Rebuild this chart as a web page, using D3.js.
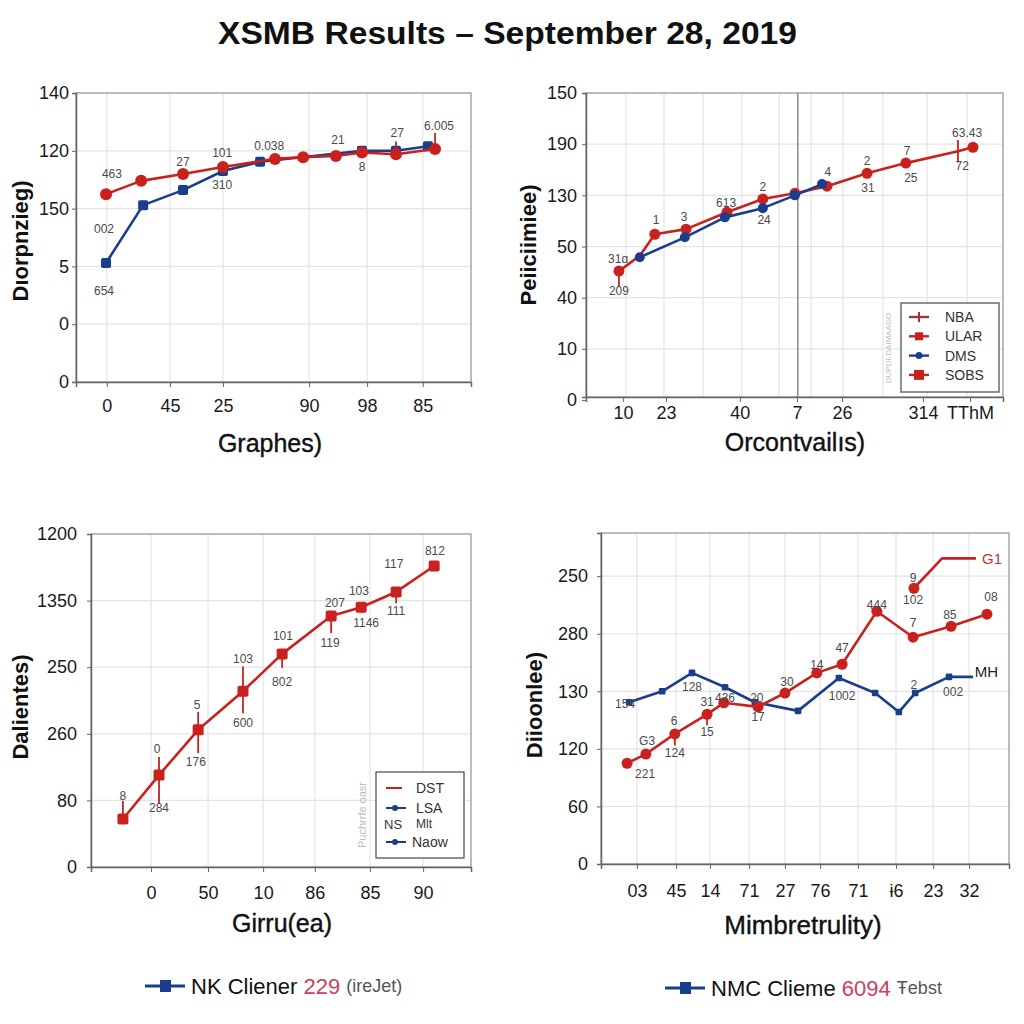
<!DOCTYPE html>
<html><head><meta charset="utf-8">
<script src="https://cdn.jsdelivr.net/npm/d3@7"></script>
<style>
html,body{margin:0;padding:0;background:#fff;}
svg{display:block;font-family:"Liberation Sans",Arial,sans-serif;}
</style></head><body>
<svg id="chart" width="1024" height="1024"></svg>
<script>
// ---------- DATA ----------
const chartTitle = "XSMB Results \u2013 September 28, 2019";

// Panel 1 (top-left)
const p1XTickPos = [7.8, 23.8, 37.2, 59.0, 73.7, 87.8];
const p1XTickLabels = ["0", "45", "25", "90", "98", "85"];
const p1YTickLabels = ["0", "0", "5", "150", "120", "140"];
const p1RedX = [7.6, 16.5, 27.1, 37.2, 50.4, 57.5, 65.8, 72.4, 81.0, 90.9];
const p1RedY = [3.25, 3.48, 3.60, 3.72, 3.86, 3.89, 3.91, 3.97, 3.94, 4.03];
const p1RedErrUp = [0, 0, 0, 0, 0, 0, 0, 0, 0.22, 0.28];
const p1BlueX = [7.6, 17.0, 27.1, 37.2, 46.6, 72.4, 81.0, 89.1];
const p1BlueY = [2.06, 3.06, 3.32, 3.65, 3.81, 4.00, 4.00, 4.08];
const p1NoteText = ["463", "27", "101", "0.038", "21", "27", "6.005", "002", "654", "310", "8"];
const p1NoteX = [9.1, 27.1, 37.0, 48.9, 66.3, 81.3, 91.9, 7.1, 7.1, 37.0, 72.4];
const p1NoteY = [3.60, 3.81, 3.96, 4.08, 4.19, 4.31, 4.43, 2.65, 1.57, 3.41, 3.72];
const p1YTitle = "D\u0131orpnzieg)";
const p1XTitle = "Graphes)";

// Panel 2 (top-right)
const p2XTickPos = [8.9, 19.2, 36.9, 50.6, 61.4, 80.8, 92.1];
const p2XTickLabels = ["10", "23", "40", "7", "26", "314", "TThM"];
const p2XGrid = [9.6, 18.7, 28.1, 37.4, 46.3, 54.0, 61.6, 71.2, 81.8, 91.4];
const p2YTickLabels = ["0", "10", "40", "50", "130", "190", "150"];
const p2RedX = [7.9, 12.9, 16.5, 24.0, 33.8, 42.4, 50.1, 57.8, 67.4, 76.7, 89.2, 92.8];
const p2RedY = [2.52, 2.82, 3.24, 3.34, 3.67, 3.93, 4.04, 4.18, 4.43, 4.63, 4.86, 4.94];
const p2RedErrUp = [0, 0, 0, 0, 0, 0, 0, 0, 0, 0, 0.22, 0];
const p2RedErrDown = [0.3, 0, 0, 0, 0, 0, 0, 0, 0, 0, 0.22, 0];
const p2BlueX = [12.9, 23.7, 33.3, 42.4, 50.1, 56.6];
const p2BlueY = [2.79, 3.18, 3.57, 3.75, 4.00, 4.22];
const p2NoteText = ["31\u0251", "209", "1", "3", "613", "2", "24", "4", "2", "31", "7", "25", "63.43", "72"];
const p2NoteX = [7.7, 7.9, 16.8, 23.5, 33.6, 42.4, 42.7, 58.0, 67.4, 67.6, 77.0, 77.9, 91.4, 90.2];
const p2NoteY = [2.75, 2.13, 3.52, 3.57, 3.85, 4.16, 3.52, 4.45, 4.67, 4.14, 4.86, 4.34, 5.21, 4.57];
const p2LegendLabels = ["NBA", "ULAR", "DMS", "SOBS"];
const p2YTitle = "Peiiciimiee)";
const p2XTitle = "Orcontvail\u0131s)";

// Panel 3 (bottom-left)
const p3XTickPos = [15.8, 30.8, 45.3, 58.9, 73.4, 87.4];
const p3XTickLabels = ["0", "50", "10", "86", "85", "90"];
const p3YTickLabels = ["0", "80", "260", "250", "1350", "1200"];
const p3RedX = [8.4, 17.9, 28.2, 40.0, 50.3, 63.2, 71.1, 80.3, 90.3];
const p3RedY = [0.72, 1.38, 2.06, 2.64, 3.20, 3.77, 3.90, 4.13, 4.52];
const p3RedErrUp = [0.27, 0.27, 0.27, 0.37, 0, 0, 0, 0, 0];
const p3RedErrDown = [0, 0.43, 0.35, 0.33, 0.21, 0.26, 0.08, 0.17, 0];
const p3NoteText = ["8", "284", "0", "176", "5", "600", "103", "802", "101", "119", "207", "1146", "103", "111", "117", "812"];
const p3NoteX = [8.4, 17.9, 17.4, 27.6, 27.9, 40.0, 40.0, 50.3, 50.5, 62.9, 64.2, 72.4, 70.5, 80.3, 79.7, 90.5];
const p3NoteY = [1.07, 0.89, 1.77, 1.58, 2.43, 2.16, 3.12, 2.78, 3.47, 3.36, 3.96, 3.66, 4.14, 3.84, 4.55, 4.74];
const p3LegendLabels = ["DST", "LSA", "Mlt", "Naow"];
const p3YTitle = "Dalientes)";
const p3XTitle = "Girru(ea)";

// Panel 4 (bottom-right)
const p4XTickPos = [8.8, 18.4, 26.7, 36.3, 45.1, 53.7, 63.0, 72.3, 81.4, 90.2];
const p4XTickLabels = ["03", "45", "14", "71", "27", "76", "71", "\u02686", "23", "32"];
const p4YTickLabels = ["0", "60", "120", "130", "280", "250"];
const p4RedX = [6.4, 11.0, 18.1, 26.0, 30.1, 38.5, 45.1, 52.9, 59.1, 67.6, 76.5, 85.8, 94.6];
const p4RedY = [1.75, 1.91, 2.26, 2.60, 2.80, 2.73, 2.97, 3.32, 3.47, 4.39, 3.94, 4.13, 4.34];
const p4RedErrDown = [0, 0, 0.2, 0.19, 0, 0.1, 0, 0, 0, 0, 0, 0, 0];
const p4Red2X = [76.7, 83.6, 91.9];
const p4Red2Y = [4.79, 5.31, 5.31];
const p4BlueX = [6.9, 15.0, 22.3, 30.4, 37.7, 48.3, 58.3, 67.2, 73.0, 77.0, 85.3, 91.2];
const p4BlueY = [2.81, 3.00, 3.32, 3.07, 2.81, 2.66, 3.23, 2.97, 2.64, 2.97, 3.25, 3.25];
const p4NoteText = ["154", "128", "G3", "221", "6", "124", "31", "15", "436", "20", "17", "30", "14", "47", "1002", "444", "9", "102", "7", "85", "08", "2", "002"];
const p4NoteX = [5.9, 22.3, 11.3, 10.8, 17.9, 18.1, 26.0, 26.0, 30.4, 38.2, 38.5, 45.6, 52.9, 59.1, 59.1, 67.6, 76.5, 76.5, 76.5, 85.5, 95.6, 76.7, 86.3];
const p4NoteY = [2.78, 3.07, 2.14, 1.56, 2.48, 1.93, 2.81, 2.29, 2.88, 2.88, 2.55, 3.16, 3.45, 3.75, 2.92, 4.50, 4.97, 4.58, 4.18, 4.32, 4.64, 3.11, 2.99];
const p4EndLabels = ["G1", "MH"];
const p4YTitle = "Diioonlee)";
const p4XTitle = "Mimbretrulity)";

// Bottom legend
const footItems = [
  {name: "NK Cliener", num: "229", tail: "(ireJet)"},
  {name: "NMC Clieme", num: "6094", tail: "\u0166ebst"}
];

// ---------- DRAWING ----------
const RED = "#c9211e", BLUE = "#1b3e8c", GRID = "#e4e4e4", TXT = "#1a1a1a", NOTE = "#4a4a4a";
const svg = d3.select("#chart");

svg.append("text").attr("x", 218).attr("y", 44)
  .attr("textLength", 579).attr("lengthAdjust", "spacingAndGlyphs")
  .attr("font-size", 31).attr("font-weight", "bold").attr("fill", "#111").text(chartTitle);

function zip(xs, ys) { return xs.map((x, i) => ({x: x, y: ys[i], i: i})); }

function panel(o) {
  const g = svg.append("g");
  const x = d3.scaleLinear().domain([0, 100]).range([o.left, o.left + o.width]);
  const y = d3.scaleLinear().domain(o.yDomain).range([o.top + o.height, o.top]);
  const levels = o.yLabels.map((d, i) => i);
  // grid
  g.selectAll(null).data(levels.filter(l => y(l) < o.top + o.height - 1 && y(l) > o.top + 1)).join("line")
    .attr("x1", o.left).attr("x2", o.left + o.width).attr("y1", d => y(d)).attr("y2", d => y(d))
    .attr("stroke", GRID).attr("stroke-width", 1.2);
  g.selectAll(null).data(o.xGrid).join("line")
    .attr("x1", d => x(d)).attr("x2", d => x(d)).attr("y1", o.top).attr("y2", o.top + o.height)
    .attr("stroke", GRID).attr("stroke-width", 1.2);
  if (o.darkV !== undefined) {
    g.append("line").attr("x1", x(o.darkV)).attr("x2", x(o.darkV)).attr("y1", o.top).attr("y2", o.top + o.height)
      .attr("stroke", "#777").attr("stroke-width", 1.3);
  }
  // frame
  g.append("rect").attr("x", o.left).attr("y", o.top).attr("width", o.width).attr("height", o.height)
    .attr("fill", "none").attr("stroke", "#999").attr("stroke-width", 1.3);
  // axes
  const ya = g.append("g").attr("transform", `translate(${o.left},0)`)
    .call(d3.axisLeft(y).tickValues(levels).tickFormat(i => o.yLabels[i]).tickSize(4).tickPadding(o.yPad));
  const xa = g.append("g").attr("transform", `translate(0,${o.top + o.height})`)
    .call(d3.axisBottom(x).tickValues(o.xTicks).tickFormat((d, i) => o.xLabels[i]).tickSize(5).tickPadding(o.xPad));
  [ya, xa].forEach(a => {
    a.select(".domain").attr("stroke", "#666").attr("stroke-width", 1.5);
    a.selectAll(".tick line").attr("stroke", "#666");
    a.selectAll("text").attr("font-size", 18).attr("fill", TXT).attr("font-family", "Liberation Sans, Arial, sans-serif");
  });
  // titles
  g.append("text").attr("transform", `translate(${o.yTitlePos[0]},${o.yTitlePos[1]}) rotate(-90)`)
    .attr("text-anchor", "middle").attr("dominant-baseline", "central")
    .attr("font-size", 22).attr("font-weight", "bold").attr("fill", "#111").text(o.yTitle);
  g.append("text").attr("x", o.xTitlePos[0]).attr("y", o.xTitlePos[1])
    .attr("text-anchor", "middle").attr("dominant-baseline", "central")
    .attr("font-size", o.xTitleSize).attr("fill", "#111").attr("stroke", "#111").attr("stroke-width", 0.4).text(o.xTitle);
  const line = d3.line().x(d => x(d.x)).y(d => y(d.y));
  // series
  o.series.forEach(s => {
    const pts = zip(s.x, s.y);
    g.append("path").datum(pts).attr("d", line).attr("fill", "none")
      .attr("stroke", s.color).attr("stroke-width", s.width || 2.6).attr("stroke-linejoin", "round");
    if (s.errUp || s.errDown) {
      g.selectAll(null).data(pts).join("line")
        .attr("x1", d => x(d.x)).attr("x2", d => x(d.x))
        .attr("y1", d => y(d.y + (s.errUp ? s.errUp[d.i] : 0)))
        .attr("y2", d => y(d.y - (s.errDown ? s.errDown[d.i] : 0)))
        .attr("stroke", s.color).attr("stroke-width", 1.8);
    }
    const mp = pts.filter(d => !s.markerSkip || s.markerSkip.indexOf(d.i) < 0);
    if (s.marker === "circle") {
      g.selectAll(null).data(mp).join("circle").attr("cx", d => x(d.x)).attr("cy", d => y(d.y))
        .attr("r", s.size).attr("fill", s.color);
    } else if (s.marker === "square") {
      g.selectAll(null).data(mp).join("rect").attr("x", d => x(d.x) - s.size).attr("y", d => y(d.y) - s.size)
        .attr("width", s.size * 2).attr("height", s.size * 2).attr("rx", s.size * 0.35).attr("fill", s.color);
    }
  });
  // notes
  g.selectAll(null).data(zip(o.noteX, o.noteY)).join("text")
    .attr("x", d => x(d.x)).attr("y", d => y(d.y)).attr("text-anchor", "middle").attr("dominant-baseline", "central")
    .attr("font-size", 12).attr("fill", NOTE).text(d => o.noteText[d.i]);
  return {g: g, x: x, y: y};
}

// Panel 1
panel({
  left: 76, top: 93, width: 395, height: 289, yDomain: [0, 5], yPad: 3, xPad: 12,
  yLabels: p1YTickLabels, xTicks: p1XTickPos, xLabels: p1XTickLabels, xGrid: p1XTickPos,
  yTitle: p1YTitle, xTitle: p1XTitle, yTitlePos: [20, 241], xTitlePos: [270, 443], xTitleSize: 25,
  series: [
    {x: p1BlueX, y: p1BlueY, color: BLUE, marker: "square", size: 5},
    {x: p1RedX, y: p1RedY, color: RED, marker: "circle", size: 6, errUp: p1RedErrUp}
  ],
  noteText: p1NoteText, noteX: p1NoteX, noteY: p1NoteY
});

// Panel 2
const P2 = panel({
  left: 586, top: 93, width: 417, height: 304, yDomain: [0.06, 6], yPad: 5, xPad: 4,
  yLabels: p2YTickLabels, xTicks: p2XTickPos, xLabels: p2XTickLabels, xGrid: p2XGrid, darkV: 50.8,
  yTitle: p2YTitle, xTitle: p2XTitle, yTitlePos: [528, 245], xTitlePos: [795, 442], xTitleSize: 25,
  series: [
    {x: p2RedX, y: p2RedY, color: RED, marker: "circle", size: 5.5, errUp: p2RedErrUp, errDown: p2RedErrDown, markerSkip: [1, 10]},
    {x: p2BlueX, y: p2BlueY, color: BLUE, marker: "circle", size: 5}
  ],
  noteText: p2NoteText, noteX: p2NoteX, noteY: p2NoteY
});
(function () {
  const g = P2.g;
  g.append("text").attr("transform", "translate(888,348) rotate(-90)").attr("text-anchor", "middle")
    .attr("dominant-baseline", "central").attr("font-size", 8).attr("fill", "#bbb").text("DUPDI-DAIMAAGO");
  g.append("rect").attr("x", 901).attr("y", 303).attr("width", 98).attr("height", 89)
    .attr("fill", "#fff").attr("stroke", "#555").attr("stroke-width", 1.3);
  const cols = [RED, RED, BLUE, RED];
  p2LegendLabels.forEach((t, i) => {
    const yy = 317 + i * 19.3;
    g.append("line").attr("x1", 909).attr("x2", 929).attr("y1", yy).attr("y2", yy)
      .attr("stroke", i === 0 ? "#8a4040" : cols[i]).attr("stroke-width", 2.4);
    if (i === 0) g.append("line").attr("x1", 919).attr("x2", 919).attr("y1", yy - 5).attr("y2", yy + 5).attr("stroke", RED).attr("stroke-width", 2);
    if (i === 1) g.append("rect").attr("x", 915).attr("y", yy - 4).attr("width", 8).attr("height", 8).attr("fill", RED);
    if (i === 2) g.append("circle").attr("cx", 919).attr("cy", yy).attr("r", 3.5).attr("fill", BLUE);
    if (i === 3) g.append("rect").attr("x", 914).attr("y", yy - 5).attr("width", 10).attr("height", 10).attr("fill", RED);
    g.append("text").attr("x", 945).attr("y", yy).attr("dominant-baseline", "central")
      .attr("font-size", 14).attr("fill", "#333").text(t);
  });
})();

// Panel 3
const P3 = panel({
  left: 91, top: 534, width: 380, height: 333, yDomain: [0, 5], yPad: 10, xPad: 14,
  yLabels: p3YTickLabels, xTicks: p3XTickPos, xLabels: p3XTickLabels, xGrid: p3XTickPos,
  yTitle: p3YTitle, xTitle: p3XTitle, yTitlePos: [20, 707], xTitlePos: [282, 923], xTitleSize: 25,
  series: [
    {x: p3RedX, y: p3RedY, color: RED, marker: "square", size: 5.5, errUp: p3RedErrUp, errDown: p3RedErrDown}
  ],
  noteText: p3NoteText, noteX: p3NoteX, noteY: p3NoteY
});
(function () {
  const g = P3.g;
  g.append("text").attr("transform", "translate(362,815) rotate(-90)").attr("text-anchor", "middle")
    .attr("dominant-baseline", "central").attr("font-size", 11).attr("fill", "#bbb").text("Puchrrfe oasr");
  g.append("rect").attr("x", 376).attr("y", 772).attr("width", 88).attr("height", 86)
    .attr("fill", "#fff").attr("stroke", "#555").attr("stroke-width", 1.3);
  const ys = [788, 808, 824, 842];
  p3LegendLabels.forEach((t, i) => {
    const yy = ys[i];
    if (i === 0) g.append("line").attr("x1", 386).attr("x2", 402).attr("y1", yy).attr("y2", yy).attr("stroke", RED).attr("stroke-width", 2);
    if (i === 1 || i === 3) {
      g.append("line").attr("x1", 386).attr("x2", 406).attr("y1", yy).attr("y2", yy).attr("stroke", BLUE).attr("stroke-width", 2);
      g.append("circle").attr("cx", 395).attr("cy", yy).attr("r", 3).attr("fill", BLUE);
    }
    if (i === 2) g.append("text").attr("x", 384).attr("y", yy).attr("dominant-baseline", "central")
      .attr("font-size", 13).attr("fill", "#333").text("NS");
    g.append("text").attr("x", i === 3 ? 412 : 416).attr("y", yy).attr("dominant-baseline", "central")
      .attr("font-size", i === 2 ? 12 : 14).attr("fill", "#333").text(t);
  });
})();

// Panel 4
const P4 = panel({
  left: 601, top: 533, width: 408, height: 331, yDomain: [0, 5.75], yPad: 9, xPad: 15,
  yLabels: p4YTickLabels, xTicks: p4XTickPos, xLabels: p4XTickLabels, xGrid: p4XTickPos,
  yTitle: p4YTitle, xTitle: p4XTitle, yTitlePos: [534, 705], xTitlePos: [803, 925], xTitleSize: 26,
  series: [
    {x: p4BlueX, y: p4BlueY, color: BLUE, marker: "square", size: 3.3, markerSkip: [11]},
    {x: p4RedX, y: p4RedY, color: RED, marker: "circle", size: 5.5, errDown: p4RedErrDown},
    {x: p4Red2X, y: p4Red2Y, color: RED, marker: "circle", size: 5.5, markerSkip: [1, 2]}
  ],
  noteText: p4NoteText, noteX: p4NoteX, noteY: p4NoteY
});
(function () {
  const g = P4.g;
  g.append("text").attr("x", P4.x(93.4)).attr("y", P4.y(5.31)).attr("dominant-baseline", "central")
    .attr("font-size", 15).attr("fill", "#c0392b").text(p4EndLabels[0]);
  g.append("text").attr("x", P4.x(91.6)).attr("y", P4.y(3.35)).attr("dominant-baseline", "central")
    .attr("font-size", 15).attr("fill", "#222").text(p4EndLabels[1]);
})();

// Footer legend
const footX = [145, 665];
footItems.forEach((f, i) => {
  const g = svg.append("g");
  const yy = 986 + i * 2;
  g.append("line").attr("x1", footX[i]).attr("x2", footX[i] + 40).attr("y1", yy).attr("y2", yy).attr("stroke", BLUE).attr("stroke-width", 3);
  g.append("rect").attr("x", footX[i] + 15).attr("y", yy - 6).attr("width", 11).attr("height", 12).attr("fill", BLUE);
  const t = g.append("text").attr("x", footX[i] + 46).attr("y", yy).attr("dominant-baseline", "central").attr("font-size", 22);
  t.append("tspan").attr("fill", "#111").text(f.name + " ");
  t.append("tspan").attr("fill", "#d0405a").text(f.num + " ");
  t.append("tspan").attr("fill", "#555").attr("font-size", 18).text(f.tail);
});
</script>
</body></html>
